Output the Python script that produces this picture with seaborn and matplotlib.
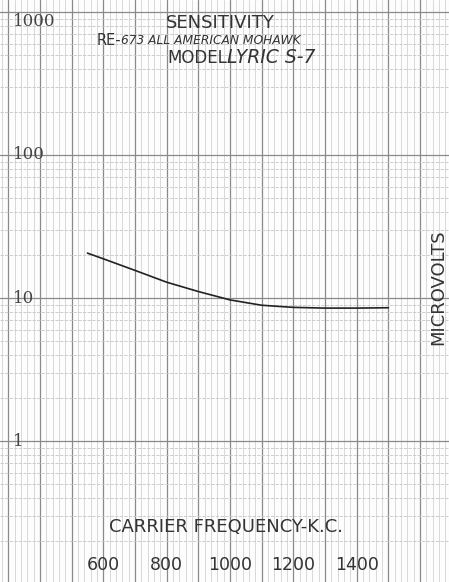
import matplotlib
matplotlib.use("Agg")
import matplotlib.pyplot as plt
from matplotlib.ticker import MultipleLocator, LogLocator, NullFormatter
import seaborn as sns
import pandas as pd

# --- Data ---
freq_kc = [550, 600, 700, 800, 900, 1000, 1100, 1200, 1300, 1400, 1500]
microvolts = [20.6, 18.8, 15.6, 12.9, 11.1, 9.7, 8.9, 8.6, 8.5, 8.5, 8.55]

x_tick_values = [600, 800, 1000, 1200, 1400]
x_tick_labels = ["600", "800", "1000", "1200", "1400"]
y_tick_values = [1000, 100, 10, 1]
y_tick_labels = ["1000", "100", "10", "1"]

title_line1 = "SENSITIVITY"
title_line2_print = "RE-"
title_line2_hand = "673 ALL AMERICAN MOHAWK"
title_line3_print = "MODEL"
title_line3_hand = "LYRIC S-7"
x_label = "CARRIER FREQUENCY-K.C."
y_label = "MICROVOLTS"

df = pd.DataFrame({"freq": freq_kc, "uv": microvolts})

sns.set_style("white")
plt.rcParams['font.family'] = ['DejaVu Sans']

fig = plt.figure(figsize=(4.49, 5.82), dpi=100)
ax = fig.add_axes([0, 0, 1, 1])

# graph paper grid (log y, linear x)
ax.set_yscale('log')
ax.set_xlim(273.8, 1691.6)
ax.set_ylim(0.1033, 1213)
ax.xaxis.set_major_locator(MultipleLocator(100))
ax.xaxis.set_minor_locator(MultipleLocator(20))
ax.yaxis.set_major_locator(LogLocator(base=10, numticks=10))
ax.yaxis.set_minor_locator(LogLocator(base=10, subs=[2, 3, 4, 5, 6, 7, 8, 9], numticks=20))
for a in (ax.xaxis, ax.yaxis):
    a.set_major_formatter(NullFormatter())
    a.set_minor_formatter(NullFormatter())
ax.tick_params(which='both', length=0)
ax.grid(True, which='major', color='#8a8a8a', linewidth=0.9)
ax.grid(True, which='minor', axis='x', color='#d2d2d2', linewidth=0.6)
ax.grid(True, which='minor', axis='y', color='#c6c6c6', linewidth=0.6, linestyle=(0, (4, 1.5)))
for s in ax.spines.values():
    s.set_visible(False)
ax.set_facecolor('#fdfdfd')

sns.lineplot(data=df, x="freq", y="uv", ax=ax, color='#222222', linewidth=1.2)
ax.set_xlabel("")
ax.set_ylabel("")

# tick labels written on the sheet
for v, t in zip(x_tick_values, x_tick_labels):
    ax.text(v, 0.135, t, ha='center', va='center', fontsize=12.5, color='#333333')
for v, t in zip(y_tick_values, y_tick_labels):
    yoff = 0.86 if v == 1000 else 1.0
    ax.text(0.028, v * yoff, t, transform=ax.get_yaxis_transform(), ha='left', va='center',
            fontsize=12, color='#444444', family=['DejaVu Serif'])

# titles
ax.text(0.49, 0.961, title_line1, transform=ax.transAxes, ha='center', va='center',
        fontsize=13, color='#333333')
ax.text(0.215, 0.931, title_line2_print, transform=ax.transAxes, ha='left', va='center',
        fontsize=10.5, color='#333333')
ax.text(0.269, 0.931, title_line2_hand, transform=ax.transAxes, ha='left', va='center',
        fontsize=8.8, color='#333333', style='italic')
ax.text(0.372, 0.901, title_line3_print, transform=ax.transAxes, ha='left', va='center',
        fontsize=12, color='#333333')
ax.text(0.505, 0.901, title_line3_hand, transform=ax.transAxes, ha='left', va='center',
        fontsize=13.5, color='#333333', style='italic')

ax.text(0.503, 0.094, x_label, transform=ax.transAxes, ha='center', va='center',
        fontsize=13, color='#333333')
ax.text(0.975, 0.507, y_label, transform=ax.transAxes, ha='center', va='center',
        rotation=90, fontsize=13, color='#333333')

fig.savefig("out.png", dpi=100)
